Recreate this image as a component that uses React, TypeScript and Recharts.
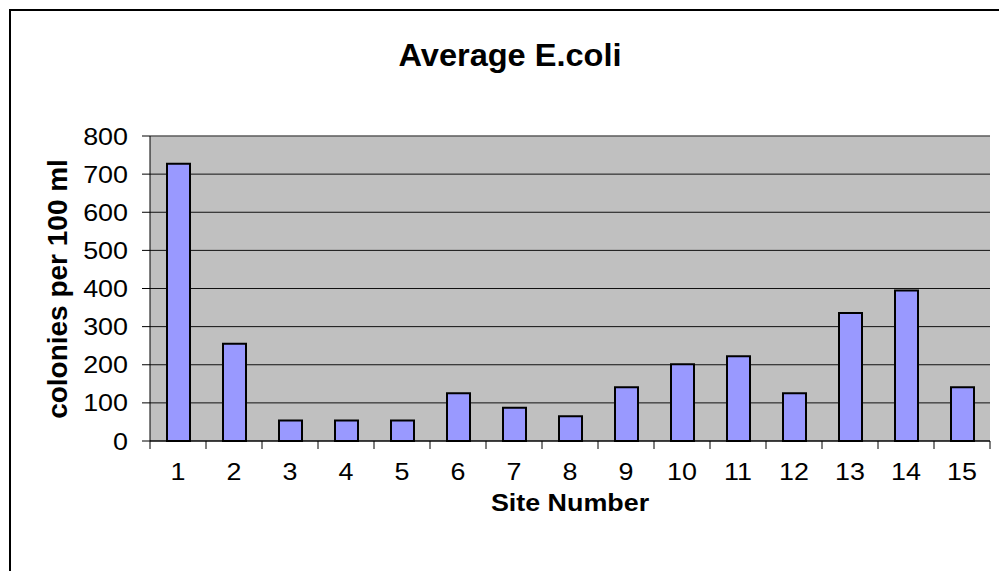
import React from 'react';
import { BarChart, Bar, XAxis, YAxis, CartesianGrid, ReferenceLine } from 'recharts';

const sites = ['1', '2', '3', '4', '5', '6', '7', '8', '9', '10', '11', '12', '13', '14', '15'];
const ecoli = [727, 255, 54, 54, 54, 125, 87, 65, 141, 201, 222, 125, 336, 395, 141];
const yTicks = [0, 100, 200, 300, 400, 500, 600, 700, 800];

const data = sites.map((site, i) => ({ site, value: ecoli[i] }));

const W = 999;
const H = 571;
const LEFT = 150;
const RIGHT = 9;
const TOP = 136;
const XAXIS_H = 130;
const BAND = (W - LEFT - RIGHT) / sites.length;
const FONT = '"Liberation Sans", Arial, sans-serif';

// text in the original looks slightly stretched sideways, so allow a scaleX
const Stretched = ({ x, y, size, sx = 1.12, anchor = 'middle', bold = false, rotate = 0, children }: any) => (
    <g transform={`translate(${x},${y}) scale(${sx},1) rotate(${rotate})`}>
        <text x={0} y={0} fontSize={size} textAnchor={anchor} fontFamily={FONT} fontWeight={bold ? 700 : 400} fill="#000">
            {children}
        </text>
    </g>
);

const XTick = ({ x, y, payload, index }: any) => (
    <g>
        <line x1={x - BAND / 2} x2={x - BAND / 2} y1={y} y2={y + 8} stroke="#000" />
        {index === sites.length - 1 && <line x1={x + BAND / 2} x2={x + BAND / 2} y1={y} y2={y + 8} stroke="#000" />}
        <Stretched x={x} y={y + 39} size={24}>
            {payload.value}
        </Stretched>
    </g>
);

const YTick = ({ x, y, payload }: any) => (
    <Stretched x={x} y={y + 8.5} size={24} anchor="end">
        {payload.value}
    </Stretched>
);

export default function App() {
    return (
        <div style={{ position: 'absolute', left: 0, top: 0, width: W, height: H, overflow: 'hidden', background: '#fff' }}>
            <div style={{ position: 'absolute', left: 9, top: 9, width: 1100, height: 700, border: '2px solid #000' }} />
            <div style={{ position: 'absolute', left: 0, top: 0 }}>
                <BarChart width={W} height={H} data={data} margin={{ top: TOP, right: RIGHT, bottom: 0, left: 0 }} barSize={23}>
                    <CartesianGrid yAxisId="left" vertical={false} fill="#C0C0C0" stroke="#111" fillOpacity={1} />
                    <XAxis
                        dataKey="site"
                        height={XAXIS_H}
                        axisLine={{ stroke: '#000' }}
                        tickLine={false}
                        tickSize={0}
                        tickMargin={0}
                        interval={0}
                        tick={<XTick />}
                    />
                    <YAxis
                        yAxisId="left"
                        width={LEFT}
                        domain={[0, 800]}
                        ticks={yTicks}
                        interval={0}
                        axisLine={{ stroke: '#000' }}
                        tickLine={{ stroke: '#000' }}
                        tickSize={8}
                        tickMargin={14}
                        tick={<YTick />}
                    />
                    <YAxis yAxisId="right" orientation="right" width={0} domain={[0, 800]} tick={false} tickLine={false} axisLine={{ stroke: '#808080' }} />
                    <ReferenceLine yAxisId="left" y={800} stroke="#808080" />
                    <Bar yAxisId="left" dataKey="value" fill="#9999FF" stroke="#000" strokeWidth={2} isAnimationActive={false} />
                </BarChart>
            </div>
            <svg width={W} height={H} style={{ position: 'absolute', left: 0, top: 0, pointerEvents: 'none' }}>
                <Stretched x={510} y={66} size={31} sx={1.05} bold>
                    Average E.coli
                </Stretched>
                <Stretched x={67} y={289} size={28} sx={1.02} bold rotate={-90}>
                    colonies per 100 ml
                </Stretched>
                <Stretched x={570} y={511} size={24} bold>
                    Site Number
                </Stretched>
            </svg>
        </div>
    );
}
